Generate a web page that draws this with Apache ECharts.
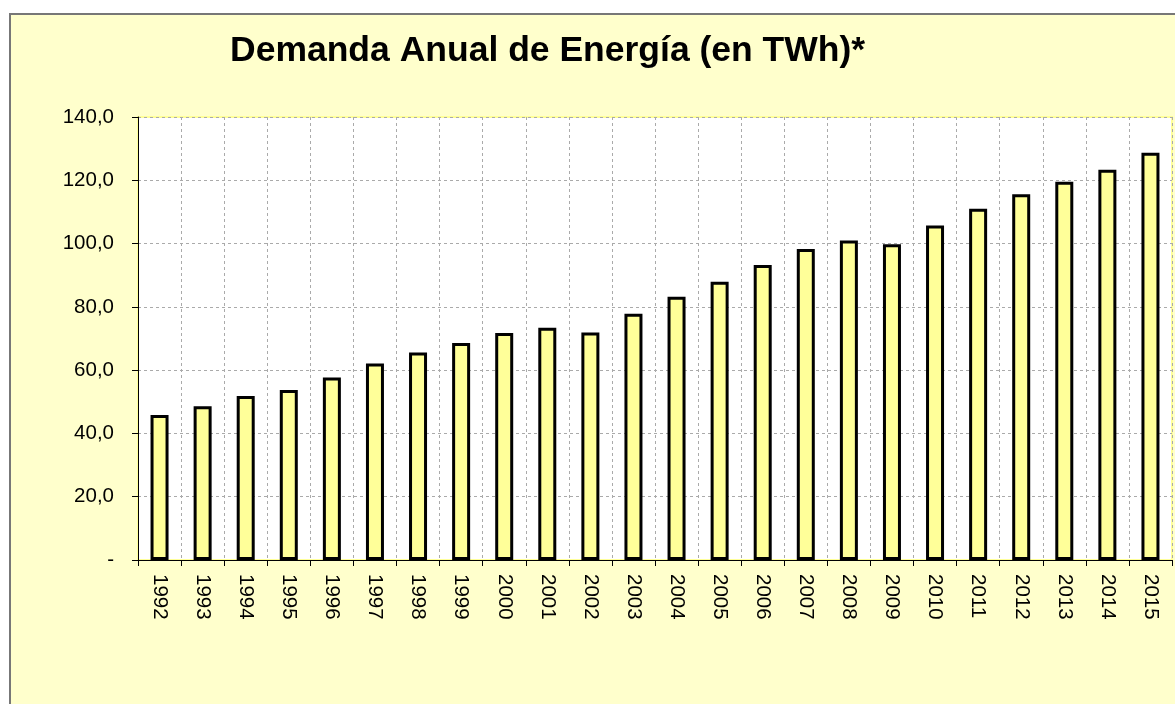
<!DOCTYPE html>
<html>
<head>
<meta charset="utf-8">
<script src="https://cdn.jsdelivr.net/npm/echarts@6/dist/echarts.min.js"></script>
<style>
  html, body { margin: 0; padding: 0; width: 1175px; height: 704px; overflow: hidden; background: #fff; }
  #barChart {
    position: absolute; left: 9px; top: 13px;
    width: 1175px; height: 700px;
    background: #FFFFCC;
    border-left: 2px solid #777; border-top: 2px solid #777;
  }
</style>
</head>
<body>
<div id="barChart"></div>
<script>
// datos
var years = ['1992','1993','1994','1995','1996','1997','1998','1999','2000','2001','2002','2003',
             '2004','2005','2006','2007','2008','2009','2010','2011','2012','2013','2014','2015'];
var demanda = [45.8, 48.6, 51.8, 53.7, 57.7, 62.1, 65.6, 68.6, 71.7, 73.4, 71.9, 77.8,
               83.2, 87.9, 93.2, 98.3, 101.0, 99.8, 105.7, 111.0, 115.6, 119.5, 123.3, 128.7];
var yTicks = [0, 20, 40, 60, 80, 100, 120, 140];

var font = 'Arial, "Liberation Sans", sans-serif';

var myChart = echarts.init(document.getElementById('barChart'));

var option = {
	animation: false,
	title: {
		text: 'Demanda Anual de Energía (en TWh)*',
		left: 214,
		top: 13,
		textStyle: {
			fontFamily: font,
			fontSize: 35.5,
			fontWeight: 'bold',
			color: '#000'
		}
	},
	grid: {
		left: 127,
		top: 102,
		width: 1034,
		height: 443,
		show: true,
		backgroundColor: '#fff',
		borderColor: '#FFFF99',
		borderWidth: 2
	},
	xAxis: {
		type: 'category',
		data: years,
		axisLine: { show: true, lineStyle: { color: '#000', width: 1 } },
		axisTick: { show: true, length: 6, lineStyle: { color: '#000' } },
		axisLabel: {
			rotate: -90,
			margin: 14,
			interval: 0,
			color: '#000',
			fontFamily: font,
			fontSize: 20.5
		},
		splitLine: {
			show: true,
			interval: 0,
			lineStyle: { color: '#aaa', type: [3, 3], width: 1 }
		}
	},
	yAxis: {
		type: 'value',
		min: yTicks[0],
		max: yTicks[yTicks.length - 1],
		interval: 20,
		axisLine: { show: true, lineStyle: { color: '#000', width: 1 } },
		axisTick: { show: true, length: 6, lineStyle: { color: '#000' } },
		axisLabel: {
			margin: 24,
			color: '#000',
			fontFamily: font,
			fontSize: 20.5,
			formatter: function (v) {
				if (v === 0) return '-';
				return v.toFixed(1).replace('.', ',');
			}
		},
		splitLine: {
			show: true,
			lineStyle: { color: '#aaa', type: [3, 3], width: 1 }
		}
	},
	series: [{
		name: 'Demanda',
		type: 'bar',
		data: demanda,
		barWidth: 18,
		itemStyle: {
			color: '#FFFF99',
			borderColor: '#000',
			borderWidth: 3
		}
	}]
};

myChart.setOption(option);
</script>
</body>
</html>
